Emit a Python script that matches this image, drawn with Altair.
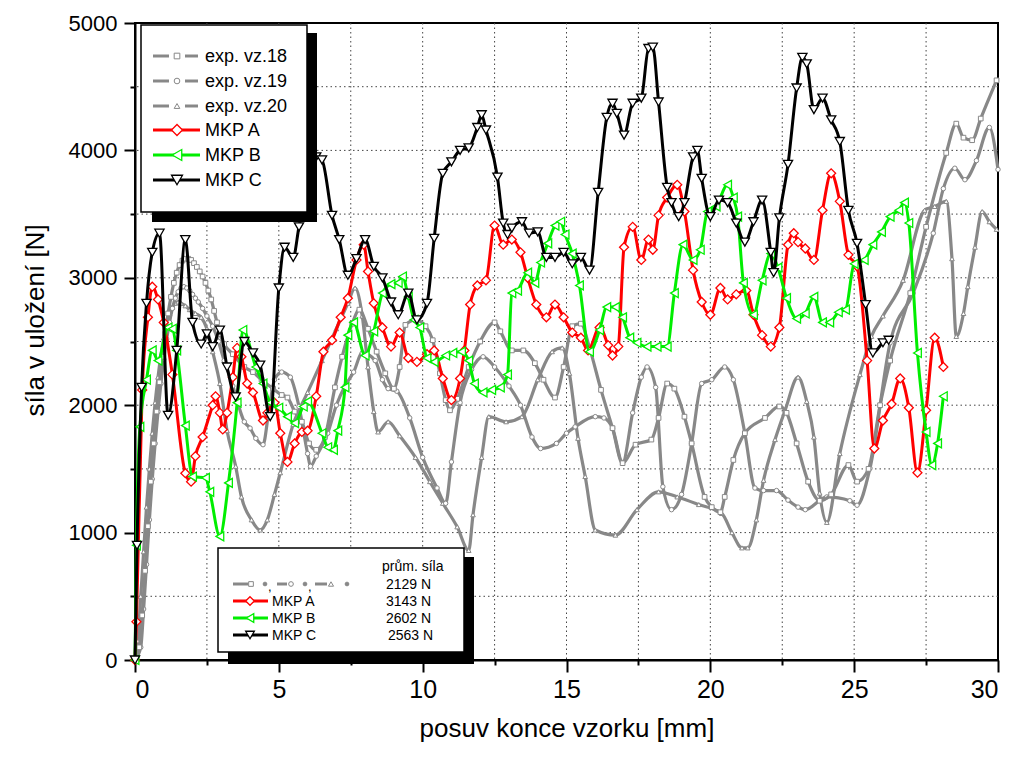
import altair as alt
import pandas as pd

FONT = "Liberation Sans"

# ---------------- data ----------------
EXP18_X = [0, 0.15, 0.25, 0.35, 0.45, 0.55, 0.65, 0.75, 0.85, 0.95, 1.05, 1.15, 1.25, 1.35, 1.45, 1.55, 1.65, 1.75,
           1.85, 1.95, 2.05, 2.15, 2.25, 2.35, 2.45, 2.55, 2.65, 2.75, 2.85, 2.95, 3.1, 3.4, 3.8, 4.1, 4.4, 4.8, 5.1,
           5.3, 5.55, 5.8, 6.05, 6.3, 6.6, 6.95, 7.2, 7.55, 7.8, 8.1, 8.4, 8.7, 9.0, 9.2, 9.4, 9.75, 10.1, 10.35, 10.6,
           10.8, 10.95, 11.2, 11.6, 12.0, 12.5, 12.7, 13.1, 13.5, 13.9, 14.2, 14.6, 14.9, 15.2, 15.5, 15.8, 16.2, 16.6,
           16.95, 17.4, 17.95, 18.2, 18.5, 18.75, 19.1, 19.35, 19.8, 20.05, 20.35, 20.5, 20.8, 21.2, 21.9, 22.4, 22.65,
           23.0, 23.4, 23.8, 24.2, 24.8, 25.1, 25.5, 25.9, 26.25, 26.95, 27.5, 28.2, 28.55, 28.8, 29.1, 29.4, 29.95]
EXP18_Y = [0, 100, 350, 700, 1050, 1400, 1700, 1950, 2180, 2380, 2560, 2720, 2850, 2960, 3040, 3100, 3135, 3150,
           3150, 3140, 3115, 3085, 3050, 3010, 2960, 2900, 2830, 2740, 2650, 2560, 2480, 2400, 2300, 2260, 2200, 2130,
           2080, 2060, 1950, 1870, 1700, 1650, 1750, 2140, 2380, 2640, 2750, 2600, 2420, 2250, 2130, 2300, 2630, 2670,
           2620, 2510, 2250, 2040, 1960, 2050, 2300, 2500, 2650, 2580, 2430, 2430, 2330, 2200, 2060, 2300, 2620, 2640,
           2450, 2120, 1820, 1545, 1690, 1730, 1900, 2170, 2130, 1910, 1700, 1280, 1200, 1160, 1280, 1570, 1780, 1900,
           1990, 1940, 1700, 1400, 1250, 1300, 1530, 1400, 1500, 2000, 2350, 2880, 3400, 3980, 4210, 4100, 4080, 4250,
           4550]

EXP19_X = [0, 0.2, 0.3, 0.4, 0.5, 0.6, 0.7, 0.8, 0.9, 1.0, 1.1, 1.2, 1.3, 1.4, 1.5, 1.6, 1.7, 1.8, 1.9, 2.0, 2.1,
           2.2, 2.35, 2.5, 2.7, 2.9, 3.1, 3.4, 3.8, 4.0, 4.2, 4.45, 4.65, 4.85, 5.1, 5.4, 5.7, 6.0, 6.1, 6.3, 6.7, 7.0,
           7.3, 7.6, 7.9, 8.35, 8.6, 8.8, 9.1, 9.55, 10.0, 10.5, 10.8, 11.0, 11.3, 11.7, 12.1, 12.5, 13.0, 13.4, 13.8,
           14.1, 14.65, 15.0, 15.3, 16.0, 16.3, 16.6, 16.95, 17.3, 17.6, 17.8, 18.1, 18.35, 18.65, 19.0, 19.35, 19.7,
           20.05, 20.5, 20.8, 21.2, 21.55, 21.85, 22.3, 22.7, 23.05, 23.3, 24.05, 24.85, 25.1, 25.55, 26.25, 27.05,
           27.75, 28.1, 28.5, 28.85, 29.25, 29.7, 30.0]
EXP19_Y = [0, 100, 400, 750, 1100, 1420, 1700, 1950, 2170, 2360, 2520, 2650, 2760, 2840, 2890, 2920, 2930, 2920,
           2900, 2870, 2840, 2810, 2760, 2700, 2620, 2500, 2350, 2150, 1870, 1820, 1740, 1690, 1950, 2200, 2260, 2220,
           1990, 1620, 1520, 1600, 1780, 2000, 2150, 2260, 2410, 2350, 2200, 2130, 2110, 1900, 1590, 1350, 1230, 1555,
           2020, 2280, 2380, 2300, 2150, 2000, 1750, 1660, 1700, 1780, 1830, 1910, 1900, 1820, 1550, 1940, 2220, 2300,
           2140, 1360, 1180, 1300, 1700, 2170, 2200, 2300, 2200, 1780, 1350, 1330, 1330, 1255, 1200, 1180, 1280, 1250,
           1215, 1505, 2490, 2880, 3350, 3700, 3860, 3770, 3920, 4180, 3850]

EXP20_X = [0, 0.1, 0.2, 0.3, 0.4, 0.5, 0.6, 0.7, 0.8, 0.9, 1.0, 1.1, 1.2, 1.3, 1.4, 1.5, 1.6, 1.75, 1.9, 2.1, 2.3,
           2.5, 2.7, 2.95, 3.2, 3.5, 3.7, 4.05, 4.35, 4.6, 4.85, 5.05, 5.5, 6.0, 6.5, 7.0, 7.4, 7.65, 7.9, 8.1, 8.3,
           8.45, 8.8, 9.2, 9.75, 10.25, 10.7, 11.2, 11.6, 11.75, 12.05, 12.3, 12.9, 13.45, 14.0, 14.5, 14.85, 15.1,
           15.4, 15.65, 16.0, 16.7, 17.45, 18.2, 18.85, 19.6, 20.4, 20.75, 21.1, 21.3, 21.6, 21.85, 22.25, 22.6, 23.05,
           23.35, 23.6, 23.8, 24.05, 24.5, 25.2, 25.6, 26.0, 26.7, 27.45, 27.8, 28.2, 28.4, 28.55, 28.8, 28.95, 29.2,
           29.45, 29.7, 29.95]
EXP20_Y = [0, 150, 500, 850, 1200, 1500, 1780, 2020, 2220, 2390, 2530, 2640, 2720, 2770, 2800, 2810, 2800, 2780,
           2750, 2720, 2690, 2600, 2420, 2170, 1800, 1520, 1280, 1100, 1020, 1100, 1300, 1470, 1850, 2100, 2350, 2600,
           2800, 2920, 2700, 2300, 1950, 1790, 1870, 1760, 1590, 1400, 1230, 1045, 860, 1140, 1590, 1910, 1870, 1910,
           2200, 2420, 2450, 2250, 1740, 1440, 1020, 980, 1180, 1320, 1280, 1220, 1150, 1000, 880, 880, 1100, 1410,
           1730, 1960, 2220, 2030, 1750, 1310, 1080, 1620, 2240, 2540, 2700, 2980, 3530, 3560, 3600, 3150, 2540, 2720,
           2930, 3240, 3520, 3440, 3380]

MKPA_X = [0, 0.05, 0.25, 0.45, 0.6, 0.8, 1.0, 1.3, 1.75, 1.95, 2.1, 2.35, 2.7, 2.8, 2.95, 3.05, 3.2, 3.4, 3.55,
          3.7, 3.9, 4.1, 4.45, 4.6, 4.85, 5.05, 5.3, 5.55, 5.8, 6.0, 6.3, 6.55, 6.85, 7.15, 7.4, 7.7, 7.95, 8.1, 8.3,
          8.6, 8.9, 9.2, 9.5, 9.8, 10.15, 10.4, 10.7, 11.0, 11.3, 11.45, 11.65, 11.9, 12.2, 12.5, 12.8, 13.1, 13.4,
          13.65, 13.95, 14.3, 14.6, 14.9, 15.2, 15.5, 15.75, 16.15, 16.45, 16.6, 16.8, 17.0, 17.3, 17.6, 17.85, 18.0,
          18.2, 18.5, 18.85, 19.1, 19.4, 19.7, 20.0, 20.35, 20.6, 20.9, 21.25, 21.5, 21.8, 22.1, 22.4, 22.7, 22.9,
          23.05, 23.3, 23.6, 23.9, 24.2, 24.5, 24.8, 25.1, 25.45, 25.7, 26.0, 26.3, 26.6, 26.9, 27.2, 27.5, 27.8,
          28.1]
MKPA_Y = [0, 300, 2120, 2690, 2930, 2830, 2650, 2240, 1466, 1400, 1600, 1750, 2000, 2070, 1940, 1810, 1940, 2220,
          2450, 2380, 2170, 2100, 1880, 1940, 2020, 1780, 1555, 1700, 1790, 1800, 2070, 2420, 2510, 2690, 2840, 3140,
          3260, 3050, 2800, 2610, 2460, 2570, 2370, 2340, 2400, 2430, 2210, 2040, 2210, 2430, 2790, 2940, 2980, 3410,
          3260, 3300, 3200, 3000, 2790, 2690, 2790, 2690, 2570, 2530, 2430, 2610, 2470, 2390, 2460, 3240, 3400, 3140,
          3300, 3220, 3490, 3630, 3730, 3520, 3060, 2810, 2710, 2920, 2830, 2870, 2900, 2710, 2550, 2460, 2610, 3260,
          3350, 3280, 3230, 3140, 3530, 3820, 3600, 3180, 3090, 2350, 1660, 1880, 2010, 2210, 1980, 1470, 1960, 2530,
          2300]

MKPB_X = [0, 0.05, 0.17, 0.4, 0.6, 0.8, 1.15, 1.3, 1.45, 1.75, 2.0, 2.45, 2.6, 2.95, 3.25, 3.55, 3.75, 4.2, 4.45,
          4.7, 5.0, 5.3, 5.55, 5.85, 6.0, 6.5, 6.7, 6.9, 7.05, 7.3, 7.4, 7.6, 8.0, 8.3, 8.6, 8.9, 9.15, 9.3, 9.5, 9.7,
          9.9, 10.15, 10.4, 10.8, 11.05, 11.35, 11.6, 11.8, 12.1, 12.4, 12.7, 12.95, 13.1, 13.3, 13.65, 13.9, 14.1,
          14.35, 14.6, 14.8, 14.95, 15.2, 15.45, 15.8, 16.15, 16.4, 16.7, 16.95, 17.2, 17.45, 17.8, 18.15, 18.5,
          18.75, 19.05, 19.4, 19.65, 19.9, 20.2, 20.6, 20.8, 20.95, 21.15, 21.5, 21.8, 22.1, 22.35, 22.65, 23.0, 23.3,
          23.6, 23.9, 24.15, 24.45, 24.7, 25.0, 25.35, 25.65, 25.95, 26.25, 26.55, 26.75, 26.9, 27.2, 27.5, 27.7,
          27.9, 28.1]
MKPB_Y = [0, 900, 1830, 2200, 2430, 2350, 2610, 2600, 2430, 1840, 1440, 1430, 1320, 970, 1390, 2020, 2590, 2300,
          2170, 2020, 1980, 1910, 1860, 1990, 2030, 1780, 1670, 1650, 1800, 2140, 2550, 2650, 2390, 2580, 2880, 2950,
          2960, 3010, 2850, 2670, 2610, 2370, 2340, 2390, 2410, 2420, 2350, 2170, 2100, 2120, 2140, 2240, 2880, 2900,
          3040, 2960, 3120, 3270, 3410, 3440, 3340, 3190, 2940, 2420, 2590, 2770, 2770, 2690, 2530, 2490, 2460, 2460,
          2460, 2880, 3260, 3140, 3220, 3520, 3560, 3730, 3630, 3480, 2960, 2710, 2980, 3190, 3080, 2840, 2680, 2720,
          2850, 2650, 2650, 2730, 2750, 3110, 3140, 3260, 3360, 3480, 3530, 3590, 3430, 2410, 1790, 1530, 1700, 2070]

MKPC_X = [0, 0.07, 0.23, 0.4, 0.6, 0.85, 1.15, 1.45, 1.75, 2.0, 2.3, 2.5, 2.7, 2.95, 3.2, 3.5, 3.8, 4.1, 4.35,
          4.7, 5.0, 5.2, 5.5, 5.7, 6.0, 6.3, 6.5, 6.85, 7.1, 7.4, 7.7, 8.0, 8.3, 8.6, 8.9, 9.15, 9.5, 9.8, 10.15,
          10.4, 10.7, 11.0, 11.3, 11.6, 11.9, 12.05, 12.2, 12.6, 12.8, 12.95, 13.1, 13.45, 13.7, 14.0, 14.3, 14.6,
          14.9, 15.2, 15.5, 15.8, 16.1, 16.4, 16.6, 16.75, 17.0, 17.3, 17.6, 17.85, 18.0, 18.2, 18.5, 18.65, 18.9,
          19.1, 19.4, 19.55, 19.7, 20.0, 20.3, 20.6, 20.9, 21.2, 21.5, 21.8, 22.1, 22.2, 22.4, 22.7, 23.0, 23.2, 23.35,
          23.6, 23.9, 24.2, 24.5, 24.8, 25.1, 25.4, 25.65, 26.0, 26.2]
MKPC_Y = [0, 900, 2140, 2800, 3200, 3350, 1920, 2430, 3300, 2650, 2480, 2560, 2460, 2590, 2300, 2065, 2500, 2410,
          2315, 1910, 2920, 3240, 3160, 3400, 3700, 3950, 3925, 3490, 3300, 3020, 3150, 3300, 3090, 3000, 2810, 2710,
          2880, 2670, 2800, 3310, 3820, 3910, 4000, 4020, 4180, 4280, 4160, 3790, 3430, 3340, 3390, 3440, 3350, 3360,
          3160, 3160, 3200, 3110, 3160, 3060, 3670, 4260, 4370, 4290, 4120, 4370, 4410, 4800, 4810, 4380, 3710, 3590,
          3480, 3590, 3950, 4000, 3780, 3480, 3610, 3590, 3430, 3280, 3440, 3610, 3200, 3040, 3470, 3890, 4490, 4730,
          4680, 4320, 4410, 4240, 4070, 3530, 3270, 2790, 2410, 2490, 2510]

GRID_X = [2.5, 5, 7.5, 10, 12.5, 15, 17.5, 20, 22.5, 25, 27.5]
GRID_Y = [500, 1000, 1500, 2000, 2500, 3000, 3500, 4000, 4500]
X_TICKS = [0, 2.5, 5, 7.5, 10, 12.5, 15, 17.5, 20, 22.5, 25, 27.5, 30]
Y_TICKS = [0, 500, 1000, 1500, 2000, 2500, 3000, 3500, 4000, 4500, 5000]

LEGEND_NAMES = ["exp. vz.18", "exp. vz.19", "exp. vz.20", "MKP A", "MKP B", "MKP C"]
MEAN_LABELS = ["2129 N", "3143 N", "2602 N", "2563 N"]

GRAY = "#888888"
RED = "#ff0000"
GREEN = "#00ee00"
BLACK = "#000000"

# ---------------- scales / axes ----------------
xs = alt.Scale(domain=[0, 30], nice=False, zero=False)
ys = alt.Scale(domain=[0, 5000], nice=False, zero=False)

x_axis = alt.Axis(values=X_TICKS, labelExpr="datum.value % 5 === 0 ? datum.label : ''",
                  tickSize={"condition": {"test": "datum.value % 5 === 0", "value": 12}, "value": 5},
                  grid=False, domainWidth=2, domainColor="black", tickColor="black", tickWidth=2,
                  labelFont=FONT, labelFontSize=25, labelColor="black", labelPadding=5,
                  title="posuv konce vzorku [mm]", titleFont=FONT, titleFontSize=26, titleFontWeight="normal",
                  titleColor="black", titleY=76, titleBaseline="alphabetic")
y_axis = alt.Axis(values=Y_TICKS, labelExpr="datum.value % 1000 === 0 ? datum.label : ''", format="d",
                  tickSize={"condition": {"test": "datum.value % 1000 === 0", "value": 11}, "value": 5},
                  grid=False, domainWidth=2, domainColor="black", tickColor="black", tickWidth=2,
                  labelFont=FONT, labelFontSize=22, labelColor="black", labelPadding=7,
                  title="síla v uložení [N]", titleFont=FONT, titleFontSize=26, titleFontWeight="normal",
                  titleColor="black", titleX=-100, titleY=297, titleBaseline="middle", titleAlign="center")


def X(f):
    return alt.X(f, type="quantitative", scale=xs, axis=x_axis)


def Y(f):
    return alt.Y(f, type="quantitative", scale=ys, axis=y_axis)


layers = []

# grid
gx = pd.DataFrame({"gx": GRID_X})
gy = pd.DataFrame({"gy": GRID_Y})
layers.append(alt.Chart(gx).mark_rule(color="#444444", strokeDash=[1.5, 3], strokeWidth=1).encode(x=X("gx")))
layers.append(alt.Chart(gy).mark_rule(color="#444444", strokeDash=[1.5, 3], strokeWidth=1).encode(y=Y("gy")))


def series(xv, yv, color, shape, size, width, sw):
    df = pd.DataFrame({"x": xv, "y": yv})
    line = alt.Chart(df).mark_line(color=color, strokeWidth=width, interpolate="monotone").encode(x=X("x"), y=Y("y"))
    pts = alt.Chart(df).mark_point(shape=shape, size=size, filled=True, fill="white", stroke=color,
                                   strokeWidth=sw, opacity=1).encode(x=X("x"), y=Y("y"))
    return [line, pts]


layers += series(EXP20_X, EXP20_Y, GRAY, "triangle-up", 22, 3.2, 1)
layers += series(EXP19_X, EXP19_Y, GRAY, "circle", 20, 3.2, 1)
layers += series(EXP18_X, EXP18_Y, GRAY, "square", 22, 3.2, 1)
layers += series(MKPA_X, MKPA_Y, RED, "diamond", 80, 3, 1.3)
layers += series(MKPB_X, MKPB_Y, GREEN, "triangle-left", 80, 3, 1.3)
layers += series(MKPC_X, MKPC_Y, BLACK, "triangle-down", 85, 3, 1.3)

# ---------------- legends (decoration, pixel placed) ----------------
dummy = pd.DataFrame({"v": [0]})
OX, OY = 135, 23


def rect(x1, y1, x2, y2, fill, stroke=None):
    kw = dict(fill=fill)
    if stroke:
        kw.update(stroke=stroke, strokeWidth=1.5)
    return alt.Chart(dummy).mark_rect(**kw).encode(
        x=alt.value(x1 - OX), x2=alt.value(x2 - OX), y=alt.value(y1 - OY), y2=alt.value(y2 - OY))


def seg(x1, x2, y, color, w=3):
    return alt.Chart(dummy).mark_rule(color=color, strokeWidth=w).encode(
        x=alt.value(x1 - OX), x2=alt.value(x2 - OX), y=alt.value(y - OY))


def mk(x, y, shape, size, color, fill="white", sw=1.3):
    return alt.Chart(dummy).mark_point(shape=shape, size=size, filled=True, fill=fill, stroke=color,
                                       strokeWidth=sw, opacity=1).encode(x=alt.value(x - OX), y=alt.value(y - OY))


def txt(s, x, y, size, align="left"):
    return alt.Chart(dummy).mark_text(text=s, font=FONT, fontSize=size, align=align, baseline="middle",
                                      color="black").encode(x=alt.value(x - OX), y=alt.value(y - OY))


# top-left legend
layers.append(rect(152, 33, 317, 222, "black"))
layers.append(rect(141, 25, 307, 212, "white", "black"))
rows = [56, 81, 106, 130, 155, 180]
gshapes = ["square", "circle", "triangle-up"]
for i in range(3):
    layers.append(seg(153, 169, rows[i], GRAY))
    layers.append(seg(185, 198, rows[i], GRAY))
    layers.append(mk(177, rows[i], gshapes[i], 32, GRAY, sw=1))
cshapes = [("diamond", RED), ("triangle-left", GREEN), ("triangle-down", BLACK)]
for i, (shp, col) in enumerate(cshapes):
    layers.append(seg(153, 200, rows[3 + i], col))
    layers.append(mk(177, rows[3 + i], shp, 120, col))
for i, name in enumerate(LEGEND_NAMES):
    layers.append(txt(name, 205, rows[i] + 1, 18))

# bottom legend
layers.append(rect(228, 557, 474, 664, "black"))
layers.append(rect(218, 548, 464, 652, "white", "black"))
layers.append(txt("prům. síla", 382, 567, 14))
r2 = [584, 601, 618, 635]
# gray combined row
layers.append(seg(233, 248, r2[0], GRAY, 3))
layers.append(mk(251, r2[0], "square", 22, GRAY, sw=1))
layers.append(mk(265, r2[0], "circle", 14, GRAY, fill=GRAY, sw=1))
layers.append(txt(",", 268, r2[0] + 3, 13))
layers.append(seg(277, 287, r2[0], GRAY, 3))
layers.append(mk(291, r2[0], "circle", 22, GRAY, sw=1))
layers.append(mk(305, r2[0], "circle", 14, GRAY, fill=GRAY, sw=1))
layers.append(txt(",", 308, r2[0] + 3, 13))
layers.append(seg(315, 327, r2[0], GRAY, 3))
layers.append(mk(331, r2[0], "triangle-up", 26, GRAY, sw=1))
layers.append(mk(347, r2[0], "circle", 14, GRAY, fill=GRAY, sw=1))
for i, (shp, col) in enumerate(cshapes):
    layers.append(seg(233, 268, r2[1 + i], col))
    layers.append(mk(250, r2[1 + i], shp, 75, col))
    layers.append(txt(LEGEND_NAMES[3 + i], 272, r2[1 + i] + 1, 14))
for i, m in enumerate(MEAN_LABELS):
    layers.append(txt(m, 386 if i < 3 else 388, r2[i] + 1, 14))

chart = alt.layer(*layers).properties(
    width=863, height=637,
    padding={"left": 127, "top": 15, "right": 8, "bottom": 90},
    autosize=alt.AutoSizeParams(type="none"),
    background="white",
).configure_view(stroke="black", strokeWidth=2)

chart.save("out.html", embed_options={"renderer": "svg", "actions": False})
